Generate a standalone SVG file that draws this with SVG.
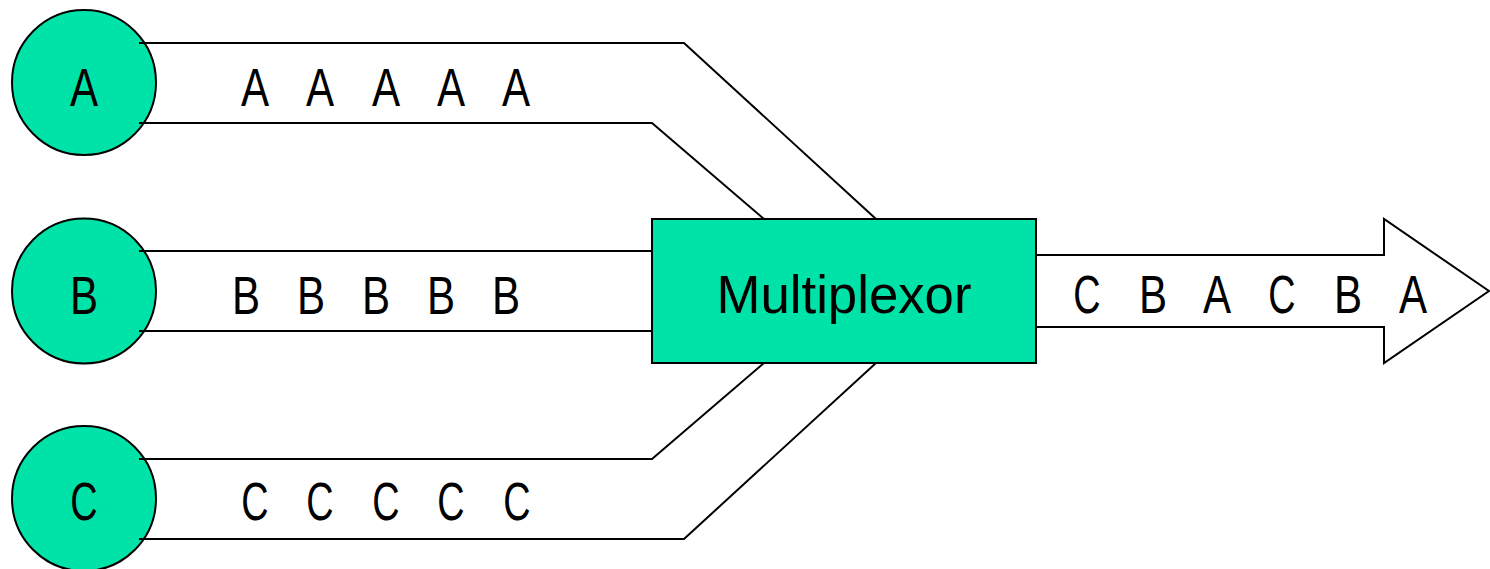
<svg xmlns="http://www.w3.org/2000/svg" width="1490" height="569" viewBox="0 0 1490 569">
<style>
.node{fill:#00E3A8;stroke:#000;stroke-width:2}
.ln{fill:none;stroke:#000;stroke-width:2}
.t{font-family:"Liberation Sans",Arial,sans-serif;font-size:54px;fill:#000;text-anchor:middle}
</style>
<rect width="1490" height="569" fill="#fff"/>
<g id="node-a">
<ellipse class="node" cx="84" cy="82.5" rx="72" ry="72.5"/>
<text class="t" transform="translate(84 106) scale(0.78 1)">A</text>
</g>
<g id="node-b">
<ellipse class="node" cx="84" cy="291" rx="72" ry="72.5"/>
<text class="t" transform="translate(84 314) scale(0.78 1)">B</text>
</g>
<g id="node-c">
<ellipse class="node" cx="84" cy="498.5" rx="72" ry="72.5"/>
<text class="t" transform="translate(84 520) scale(0.7 1)">C</text>
</g>
<g id="connectors">
<path class="ln" d="M139,43 H684 L876,219"/>
<path class="ln" d="M139,123 H652 L764,219"/>
<path class="ln" d="M139,251 H652"/>
<path class="ln" d="M139,331 H652"/>
<path class="ln" d="M139,459 H652 L764,363"/>
<path class="ln" d="M139,539 H684 L876,363"/>
<path id="output-arrow" class="ln" d="M1036,255 H1384 V219 L1489,291 L1384,363 V327 H1036" fill="#fff"/>
</g>
<g id="multiplexor">
<rect class="node" x="652" y="219" width="384" height="144"/>
<text class="t" x="844" y="313" textLength="255" lengthAdjust="spacingAndGlyphs">Multiplexor</text>
</g>
<g id="streams">
<text class="t" transform="translate(255 106) scale(0.78 1)">A</text>
<text class="t" transform="translate(320 106) scale(0.78 1)">A</text>
<text class="t" transform="translate(386 106) scale(0.78 1)">A</text>
<text class="t" transform="translate(451 106) scale(0.78 1)">A</text>
<text class="t" transform="translate(516 106) scale(0.78 1)">A</text>
<text class="t" transform="translate(246 314) scale(0.78 1)">B</text>
<text class="t" transform="translate(311 314) scale(0.78 1)">B</text>
<text class="t" transform="translate(376 314) scale(0.78 1)">B</text>
<text class="t" transform="translate(441 314) scale(0.78 1)">B</text>
<text class="t" transform="translate(506 314) scale(0.78 1)">B</text>
<text class="t" transform="translate(255 520) scale(0.7 1)">C</text>
<text class="t" transform="translate(320 520) scale(0.7 1)">C</text>
<text class="t" transform="translate(386 520) scale(0.7 1)">C</text>
<text class="t" transform="translate(451 520) scale(0.7 1)">C</text>
<text class="t" transform="translate(517 520) scale(0.7 1)">C</text>
<text class="t" transform="translate(1087 313) scale(0.7 1)">C</text>
<text class="t" transform="translate(1153 313) scale(0.78 1)">B</text>
<text class="t" transform="translate(1217 313) scale(0.78 1)">A</text>
<text class="t" transform="translate(1282 313) scale(0.7 1)">C</text>
<text class="t" transform="translate(1348 313) scale(0.78 1)">B</text>
<text class="t" transform="translate(1413 313) scale(0.78 1)">A</text>
</g>
</svg>
